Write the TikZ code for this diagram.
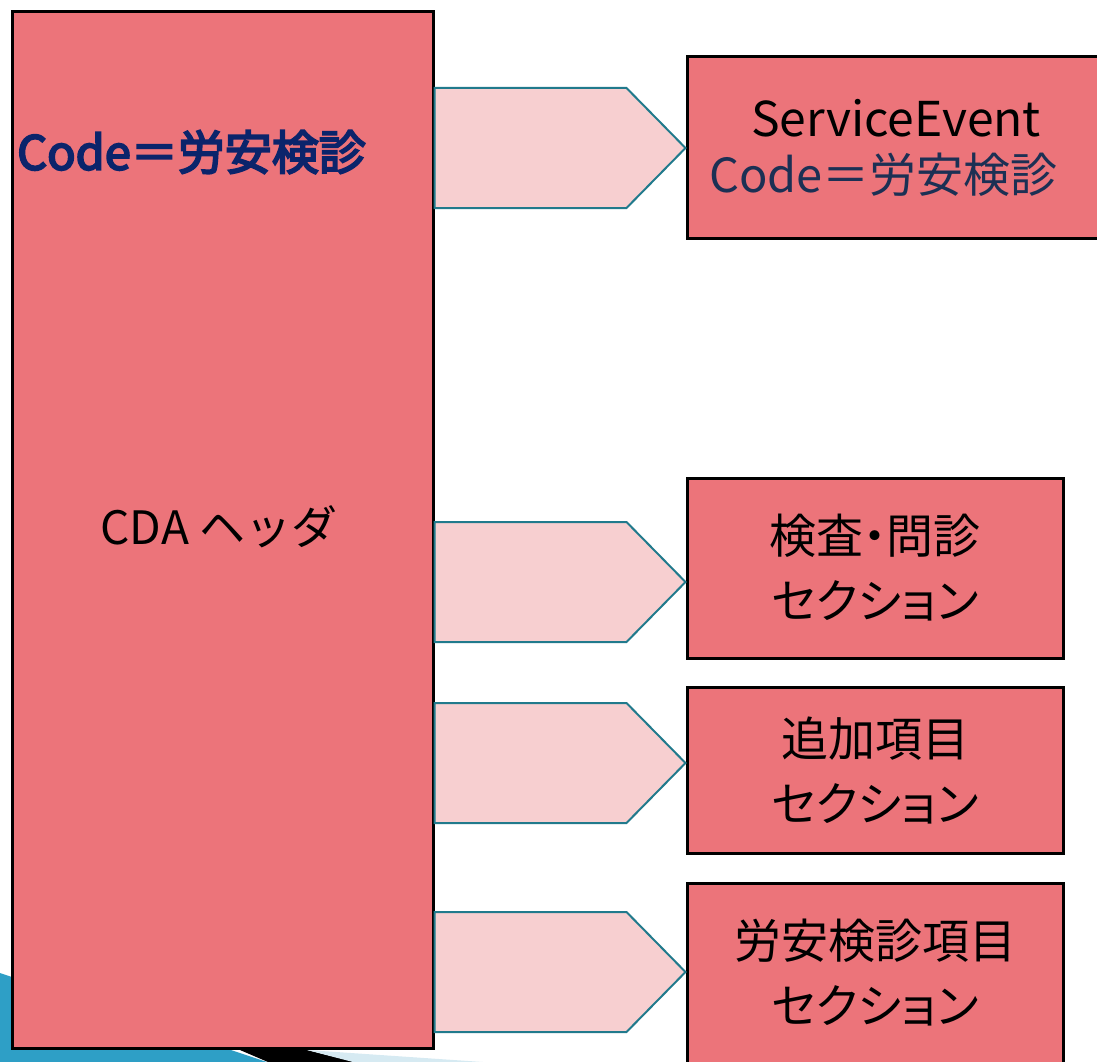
\documentclass[tikz,border=0pt]{standalone}
\usepackage{fontspec}
\setmainfont{Noto Sans CJK JP}
\newfontfamily\jpp{Noto Sans CJK JP}[RawFeature=+palt]
\newfontfamily\jpsemi{Noto Sans CJK JP}[FakeBold=4]
\usetikzlibrary{calc}
\definecolor{hdrred}{HTML}{EC747A}
\definecolor{arrfill}{HTML}{F7CFD0}
\definecolor{arrline}{HTML}{217A8C}
\definecolor{navy}{HTML}{0B246B}
\definecolor{navyb}{HTML}{1C3054}
\definecolor{deco}{HTML}{2E9FC6}
\definecolor{decolight}{HTML}{D6EAF2}
\begin{document}
\begin{tikzpicture}[x=1pt,y=-1pt,
  redbox/.style={draw=black,line width=3pt,fill=hdrred,inner sep=0pt,align=center,
    font=\jpp\fontsize{47}{65}\selectfont},
  blockarrow/.style={draw=arrline,line width=2pt,fill=arrfill,line join=miter}]
\useasboundingbox (0,0) rectangle (1097,1062);
\clip (0,0) rectangle (1097,1062);
% background decoration
\fill[deco] (0,973) -- (267,1062) -- (0,1062) -- cycle;
\fill[black] (240,1050) -- (307,1050) -- (355,1062) -- (268,1062) -- cycle;
\fill[decolight] (307,1050) -- (483,1062) -- (353,1062) -- cycle;
% main header box
\node[redbox,minimum width=421pt,minimum height=1036pt] (hdr) at (222.5,530) {};
\node[font=\fontsize{46}{52}\selectfont,anchor=center] (hdrtxt) at (219,527) {CDA ヘッダ};
\node[font=\jpsemi\fontsize{47}{52}\selectfont,text=navy,anchor=west,inner sep=0pt] (code) at (17,152) {Code＝労安検診};
% right boxes
\node[redbox,minimum width=418pt,minimum height=181pt,font=\fontsize{47}{56}\selectfont] (b1) at (896,147.5)
  {\fontsize{48}{56}\selectfont ServiceEvent\\\textcolor{navyb}{Code＝労安検診}\hspace*{25pt}};
\node[redbox,minimum width=376pt,minimum height=180pt] (b2) at (875,568) {検査・問診\\セクション};
\node[redbox,minimum width=376pt,minimum height=166pt] (b3) at (875,770) {追加項目\\セクション};
\node[redbox,minimum width=376pt,minimum height=180pt] (b4) at (875,973) {労安検診項目\\セクション};
% block arrows
\foreach \b/\dy in {b1/0.5,b2/14,b3/-7,b4/-1}{
  \coordinate (tip) at ($(\b.west)+(0,\dy)$);
  \coordinate (tt) at ($(tip)+(-59,-60)$);
  \coordinate (bb) at ($(tip)+(-59,60)$);
  \draw[blockarrow] (hdr.east |- tt) -- (tt) -- (tip) -- (bb) -- (hdr.east |- bb) -- cycle;
}
\end{tikzpicture}
\end{document}
